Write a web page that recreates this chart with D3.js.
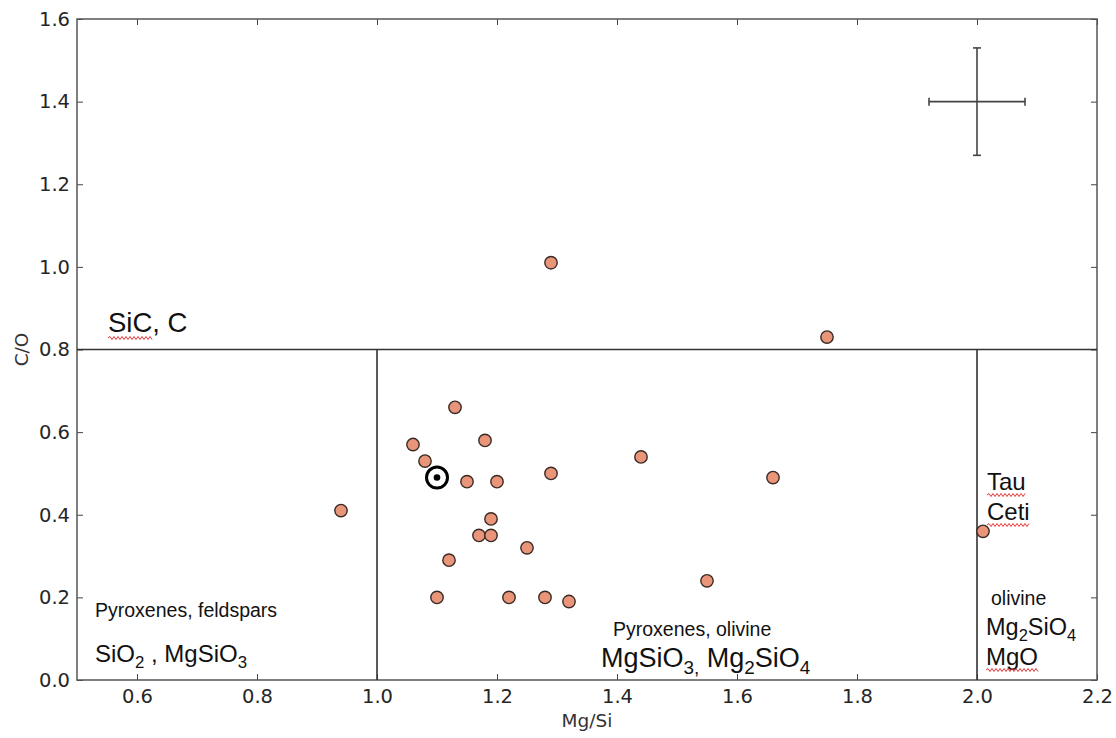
<!DOCTYPE html>
<html><head><meta charset="utf-8">
<script src="https://cdn.jsdelivr.net/npm/d3@7"></script>
<style>body{margin:0;background:#fff}svg{display:block}.tk{font-family:"DejaVu Sans","Bitstream Vera Sans",Verdana,sans-serif}</style>
</head><body>
<svg id="c" width="1116" height="738"></svg>
<script>
const xTicks = [0.6,0.8,1.0,1.2,1.4,1.6,1.8,2.0,2.2];
const yTicks = [0.0,0.2,0.4,0.6,0.8,1.0,1.2,1.4,1.6];
const starMgSi = [0.94,1.29,1.75,1.13,1.06,1.18,1.08,1.15,1.20,1.29,1.44,1.66,1.19,1.17,1.19,1.25,1.12,1.10,1.22,1.28,1.32,1.55,2.01];
const starCO   = [0.41,1.01,0.83,0.66,0.57,0.58,0.53,0.48,0.48,0.50,0.54,0.49,0.39,0.35,0.35,0.32,0.29,0.20,0.20,0.20,0.19,0.24,0.36];
const sun = [1.10,0.49];
const errCenter = [2.0,1.4];
const errX = [1.92,2.08];
const errY = [1.27,1.53];
const boundaryCO = 0.8;
const boundaryMgSi = [1.0,2.0];

const svg = d3.select("#c");
const m = {l:77,r:19,t:19,b:58};
const W=1116,H=738;
const x = d3.scaleLinear().domain([0.5,2.2]).range([m.l,W-m.r]);
const y = d3.scaleLinear().domain([0,1.6]).range([H-m.b,m.t]);
const font="'Liberation Sans', Arial, sans-serif";

const fmt = d3.format(".1f");
const gx = svg.append("g").attr("transform",`translate(0,${y(0)})`)
  .call(d3.axisBottom(x).tickValues(xTicks).tickFormat(fmt).tickSizeInner(-6).tickSizeOuter(0).tickPadding(9));
const gxt = svg.append("g").attr("transform",`translate(0,${y(1.6)})`)
  .call(d3.axisTop(x).tickValues(xTicks).tickFormat("").tickSizeInner(-6).tickSizeOuter(0));
const gy = svg.append("g").attr("transform",`translate(${x(0.5)},0)`)
  .call(d3.axisLeft(y).tickValues(yTicks).tickFormat(fmt).tickSizeInner(-6).tickSizeOuter(0).tickPadding(7));
const gyr = svg.append("g").attr("transform",`translate(${x(2.2)},0)`)
  .call(d3.axisRight(y).tickValues(yTicks).tickFormat("").tickSizeInner(-6).tickSizeOuter(0));
[gx,gxt,gy,gyr].forEach(g=>{
  g.select(".domain").remove();
  g.attr("font-family",null).attr("font-size",null).attr("class","tk");
  g.selectAll("line").attr("stroke","#444").attr("stroke-width",1);
  g.selectAll("text").style("font-size","19.5px").attr("fill","#262626");
});
svg.append("rect").attr("x",x(0.5)).attr("y",y(1.6)).attr("width",x(2.2)-x(0.5)).attr("height",y(0)-y(1.6))
  .attr("fill","none").attr("stroke","#555").attr("stroke-width",1.5);

svg.append("text").attr("class","tk").attr("x",(x(0.5)+x(2.2))/2).attr("y",H-11).attr("text-anchor","middle")
  .style("font-size","18.5px").attr("fill","#333").text("Mg/Si");
svg.append("text").attr("class","tk").attr("transform",`translate(28,${(y(0)+y(1.6))/2}) rotate(-90)`).attr("text-anchor","middle")
  .style("font-size","18.5px").attr("fill","#333").text("C/O");

svg.append("line").attr("x1",x(0.5)).attr("x2",x(2.2)).attr("y1",y(boundaryCO)).attr("y2",y(boundaryCO))
  .attr("stroke","#333").attr("stroke-width",1.6);
boundaryMgSi.forEach(v=>svg.append("line").attr("x1",x(v)).attr("x2",x(v)).attr("y1",y(0)).attr("y2",y(boundaryCO))
  .attr("stroke","#333").attr("stroke-width",1.6));

const ec="#444";
svg.append("line").attr("x1",x(errX[0])).attr("x2",x(errX[1])).attr("y1",y(errCenter[1])).attr("y2",y(errCenter[1])).attr("stroke",ec).attr("stroke-width",1.6);
svg.append("line").attr("x1",x(errCenter[0])).attr("x2",x(errCenter[0])).attr("y1",y(errY[0])).attr("y2",y(errY[1])).attr("stroke",ec).attr("stroke-width",1.6);
errX.forEach(v=>svg.append("line").attr("x1",x(v)).attr("x2",x(v)).attr("y1",y(errCenter[1])-4).attr("y2",y(errCenter[1])+4).attr("stroke",ec).attr("stroke-width",1.6));
errY.forEach(v=>svg.append("line").attr("y1",y(v)).attr("y2",y(v)).attr("x1",x(errCenter[0])-4).attr("x2",x(errCenter[0])+4).attr("stroke",ec).attr("stroke-width",1.6));

svg.append("g").selectAll("circle").data(starMgSi.map((v,i)=>[v,starCO[i]])).join("circle")
  .attr("cx",d=>x(d[0])).attr("cy",d=>y(d[1])).attr("r",6.2)
  .attr("fill","#E8957A").attr("stroke","#3a2a25").attr("stroke-width",1.4);

svg.append("circle").attr("cx",x(sun[0])).attr("cy",y(sun[1])).attr("r",10.5).attr("fill","#fff").attr("stroke","#000").attr("stroke-width",3);
svg.append("circle").attr("cx",x(sun[0])).attr("cy",y(sun[1])).attr("r",3.3).attr("fill","#000");

function label(px,py,size,parts){
  const t = svg.append("text").attr("x",px).attr("y",py).attr("font-family",font).attr("font-size",size).attr("fill","#111");
  let pending=0;
  parts.forEach(p=>{
    if(typeof p==="string"){ const s=t.append("tspan").text(p); if(pending){s.attr("dy",pending);pending=0;} }
    else { t.append("tspan").attr("font-size",size*0.7).attr("dy",size*0.25-pending).text(p.sub); pending=-size*0.25; }
  });
  return t;
}
function wavy(t, startChar, nChars){
  const node=t.node();
  const s=node.getExtentOfChar(startChar), e=node.getExtentOfChar(startChar+nChars-1);
  const x0=s.x, x1=e.x+e.width, yy=s.y+s.height;
  let d=`M${x0},${yy}`; let up=true;
  for(let xx=x0+2; xx<=x1; xx+=2){ d+=`L${xx},${yy+(up?-1.5:1.5)}`; up=!up; }
  svg.append("path").attr("d",d).attr("fill","none").attr("stroke","#e02020").attr("stroke-width",0.9);
}
const sic = label(108,332,27.5,["SiC, C"]); wavy(sic,0,3);
label(95,617,19.5,["Pyroxenes, feldspars"]);
label(95,662,24,["SiO",{sub:"2"}," , MgSiO",{sub:"3"}]);
label(613,636,19.5,["Pyroxenes, olivine"]);
label(601,667,27,["MgSiO",{sub:"3,"}," Mg",{sub:"2"},"SiO",{sub:"4"}]);
const tau = label(987,490,24,["Tau"]); wavy(tau,0,3);
const ceti = label(987,520,24,["Ceti"]); wavy(ceti,0,4);
label(991,605,19.5,["olivine"]);
label(986,635,23.5,["Mg",{sub:"2"},"SiO",{sub:"4"}]);
const mgo = label(986,665,24,["MgO"]); wavy(mgo,0,3);
</script>
</body></html>
